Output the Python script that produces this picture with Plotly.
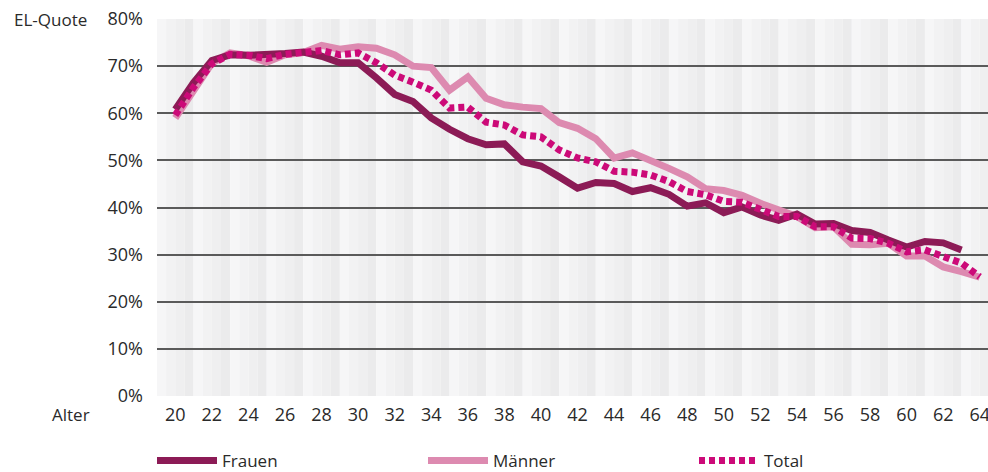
import plotly.graph_objects as go

ages_f = list(range(20, 64))
ages_mt = list(range(20, 65))

frauen = [60.8, 66.5, 71.2, 72.4, 72.3, 72.4, 72.7, 73.0, 72.1, 70.7,
          70.7, 67.5, 64.0, 62.5, 59.0, 56.6, 54.6, 53.3, 53.5, 49.7,
          48.8, 46.5, 44.1, 45.3, 45.1, 43.4, 44.2, 42.8, 40.3, 41.0,
          38.9, 40.1, 38.4, 37.3, 38.6, 36.5, 36.6, 35.1, 34.7, 33.1,
          31.6, 32.8, 32.5, 31.0]

maenner = [59.0, 64.5, 70.6, 72.8, 72.2, 70.8, 72.4, 72.9, 74.4, 73.6,
           74.1, 73.8, 72.4, 70.0, 69.7, 64.9, 67.7, 63.2, 61.8, 61.3,
           61.0, 58.0, 56.8, 54.6, 50.5, 51.6, 50.1, 48.3, 46.5, 44.0,
           43.6, 42.6, 40.9, 39.5, 38.1, 35.7, 35.9, 32.2, 32.1, 32.4,
           29.7, 29.7, 27.4, 26.4, 25.2]

total = [59.6, 65.5, 70.5, 72.5, 72.3, 71.6, 72.5, 73.0, 73.3, 72.4,
         72.8, 70.7, 68.1, 66.6, 64.9, 61.1, 61.3, 58.1, 57.5, 55.4,
         55.0, 52.2, 50.5, 49.7, 47.7, 47.5, 46.9, 45.5, 43.4, 42.7,
         41.3, 41.1, 39.5, 38.1, 38.1, 35.9, 35.9, 33.5, 33.4, 32.4,
         30.6, 31.0, 29.6, 28.2, 25.3]

x_ticks = list(range(20, 65, 2))
y_ticks = [0, 10, 20, 30, 40, 50, 60, 70, 80]
y_tick_text = [f"{v}%" for v in y_ticks]
band_starts = list(range(19, 65, 2))

C_F = "#8c1b56"
C_M = "#dd8ab0"
C_T = "#cc0a78"
FONT = "Open Sans"
TXT = "#2a2a2a"

W, H = 988, 472
ML, MR, MT, MB = 157, 0, 19, 76
PW = W - ML - MR
PH = H - MT - MB

fig = go.Figure()

fig.add_trace(go.Scatter(x=ages_mt, y=maenner, name="Männer", mode="lines",
                         line=dict(color=C_M, width=7), legendrank=2))
fig.add_trace(go.Scatter(x=ages_f, y=frauen, name="Frauen", mode="lines",
                         line=dict(color=C_F, width=7), legendrank=1))
fig.add_trace(go.Scatter(x=ages_mt, y=total, name="Total", mode="lines",
                         line=dict(color=C_T, width=7, dash="6px,4px"),
                         legendrank=3))

# background vertical bands (each 2 years, light-to-darker gradient)
steps = ["#f6f6f7", "#f2f2f3", "#efeff0", "#ebebec"]
shapes = []
for s in band_starts:
    for i, col in enumerate(steps):
        shapes.append(dict(type="rect", xref="x", yref="paper",
                           x0=s + i * 0.5, x1=s + (i + 1) * 0.5, y0=0, y1=1,
                           fillcolor=col, line=dict(width=0), layer="below"))

fig.update_layout(
    width=W, height=H,
    margin=dict(l=ML, r=MR, t=MT, b=MB, autoexpand=False),
    paper_bgcolor="white", plot_bgcolor="white",
    font=dict(family=FONT, size=17, color=TXT),
    shapes=shapes,
    showlegend=True,
    legend=dict(orientation="h", x=-5 / PW, xanchor="left",
                y=-(461 - (H - MB)) / PH, yanchor="middle",
                itemwidth=60, entrywidth=196, entrywidthmode="pixels",
                font=dict(family=FONT, size=17, color=TXT),
                bgcolor="rgba(0,0,0,0)"),
    xaxis=dict(range=[19, 64.45], tickvals=x_ticks, ticktext=[str(v) for v in x_ticks],
               showgrid=False, zeroline=False, showline=False, ticks="",
               ticklabelstandoff=6, ticklabeloverflow="allow",
               tickfont=dict(size=18, color=TXT), fixedrange=True),
    yaxis=dict(range=[0, 80], tickvals=y_ticks, ticktext=y_tick_text,
               showgrid=True, gridcolor="#5a5a5a", gridwidth=2, zeroline=False,
               showline=False, ticks="", ticklabelstandoff=13,
               tickfont=dict(size=18, color=TXT), fixedrange=True),
    annotations=[
        dict(text="EL-Quote", xref="paper", yref="paper", x=(12 - ML) / PW, y=1,
             xanchor="left", yanchor="middle", showarrow=False,
             font=dict(family=FONT, size=17, color=TXT)),
        dict(text="Alter", xref="paper", yref="paper", x=(50 - ML) / PW, y=-19 / PH,
             xanchor="left", yanchor="middle", showarrow=False,
             font=dict(family=FONT, size=17, color=TXT)),
    ],
)

fig.write_html("out.html", config={"displayModeBar": False},
               post_script="document.body.style.margin='0';")
